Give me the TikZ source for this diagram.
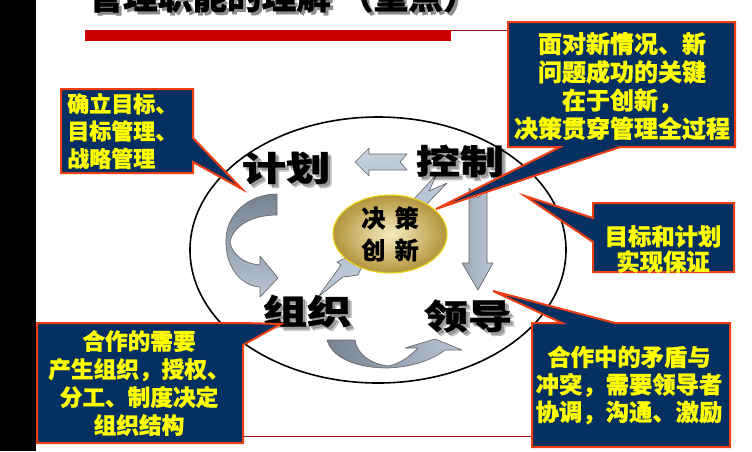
\documentclass[tikz,border=0pt]{standalone}
\usepackage{fontspec}
\newfontfamily\cjk{Noto Sans CJK SC}
\newfontfamily\cjkheavy[BoldFeatures={FakeBold=0.8}]{Noto Sans CJK SC}
\usetikzlibrary{shapes.geometric}

\definecolor{navy}{RGB}{6,48,98}
\definecolor{calloutedge}{RGB}{240,62,20}
\definecolor{callouttext}{RGB}{255,255,0}
\definecolor{arrowdark}{RGB}{118,129,146}
\definecolor{arrowlight}{RGB}{186,198,214}
\definecolor{goldin}{RGB}{246,236,192}
\definecolor{goldout}{RGB}{180,148,60}
\definecolor{goldedge}{RGB}{236,214,20}
\definecolor{titlered}{RGB}{204,0,0}
\definecolor{rule}{RGB}{150,20,20}

\tikzset{
  callout/.style={fill=navy, draw=calloutedge, line width=1.5pt, line join=miter},
  callouttxt/.style={text=callouttext, align=center, inner sep=0pt},
  blockarrow/.style={draw=black!60, line width=0.5pt, line join=round},
  bigword/.style={font=\cjkheavy\bfseries\fontsize{25.5}{28}\selectfont, inner sep=0pt},
  bigshadow/.style={bigword, text=black, opacity=0.22},
  goldword/.style={font=\cjkheavy\bfseries\fontsize{18}{20}\selectfont, inner sep=0pt},
}

\newcommand{\wide}[1]{\scalebox{1.3}[1]{#1}}

\begin{document}
\begin{tikzpicture}[x=0.75pt,y=-0.75pt]
  \useasboundingbox (0,0) rectangle (752,451);
  \clip (0,0) rectangle (752,451);

  % left black band
  \fill[black] (0,0) rectangle (36,451);

  % title (mostly above the top edge) and its red rule
  \node[anchor=base west, font=\cjkheavy\bfseries\fontsize{26}{30}\selectfont, text=black!45, inner sep=0pt]
    (titleshadow) at (91,12) {管理职能的理解 （重点）};
  \node[anchor=base west, font=\cjkheavy\bfseries\fontsize{26}{30}\selectfont, inner sep=0pt]
    (title) at (88,9) {管理职能的理解 （重点）};
  \fill[titlered] (85,30) rectangle (451,41);
  \draw[rule, line width=0.75pt] (451,30.4) -- (510,30.4);
  \draw[rule, line width=0.75pt] (243,436) -- (532,436);

  % outer cycle
  \draw[black, line width=1.2pt] (378,250) ellipse [x radius=188, y radius=133];

  % lightning arrow through the centre (drawn below the gold disc)
  \filldraw[blockarrow, fill=arrowlight]
    (413,200) -- (437,174) -- (429,191) -- (447,183) -- (425,206) -- cycle;
  \filldraw[blockarrow, fill=arrowlight]
    (350,256) -- (337,262) -- (341,265) -- (318,297) -- (343,277) -- (358,275) -- (364,262) -- cycle;

  % control -> plan
  \shadedraw[blockarrow, top color=arrowlight!80, bottom color=arrowlight]
    (355,162) -- (369,148) -- (369,154) -- (407,154) -- (400,162) -- (407,170)
    -- (369,170) -- (369,176) -- cycle;

  % control -> lead
  \shadedraw[blockarrow, left color=arrowlight!85!black, right color=arrowlight]
    (469,188) -- (478,198) -- (487,188) -- (487,263) -- (493,263) -- (478,290)
    -- (462,263) -- (469,263) -- cycle;

  % plan -> organise (curved)
  \shadedraw[blockarrow, top color=arrowdark, bottom color=arrowlight]
    (277,194) .. controls (248,194) and (226,215) .. (226,240)
    .. controls (225,265) and (240,286) .. (260,287)
    -- (260,297) -- (278,278) -- (260,256) -- (260,265)
    .. controls (245,264) and (232,255) .. (230,242)
    .. controls (233,226) and (252,215) .. (277,215) -- cycle;

  % organise -> lead (curved)
  \shadedraw[blockarrow, left color=arrowdark, right color=arrowlight]
    (327,340) .. controls (333,360) and (360,368) .. (388,368)
    .. controls (415,367) and (435,358) .. (445,350)
    -- (462,350) -- (435,339) -- (405,348) -- (418,348)
    .. controls (410,356) and (400,364) .. (388,366)
    .. controls (372,364) and (357,355) .. (355,340) -- cycle;

  % decision / innovation disc
  \shadedraw[inner color=goldin, outer color=goldout, draw=goldedge, line width=0.8pt]
    (390,234) ellipse [x radius=57, y radius=39];
  \node[goldword] (juece) at (390,218) {决\hspace{7pt}策};
  \node[goldword] (chuangxin) at (390,250) {创\hspace{7pt}新};

  % four functions
  \foreach \nm/\px/\py/\txt in {jihua/286/168/计划, kongzhi/460/161/控制, zuzhi/307/311/组织, lingdao/468/316/领导}{
    \node[bigshadow] (\nm s1) at (\px+2.5,\py+2.5) {\wide{\txt}};
    \node[bigshadow] (\nm s2) at (\px+4,\py+4) {\wide{\txt}};
    \node[bigword] (\nm) at (\px,\py) {\wide{\txt}};
  }

  % callouts
  \draw[callout] (61,89) -- (193,89) -- (193,138) -- (242,189) -- (193,162)
    -- (193,173) -- (61,173) -- cycle;
  \node[callouttxt, anchor=west, align=left, font=\cjkheavy\bfseries\fontsize{16.5}{20.5}\selectfont]
    (goal) at (67,131) {确立目标、\\目标管理、\\战略管理};

  \draw[callout] (508,22) -- (735,22) -- (735,147) -- (620,147) -- (436,209)
    -- (560,147) -- (508,147) -- cycle;
  \node[callouttxt, font=\cjkheavy\bfseries\fontsize{18}{21.2}\selectfont]
    (innov) at (622,86) {面对新情况、新\\问题成功的关键\\在于创新，\\决策贯穿管理全过程};

  \draw[callout] (593,203) -- (734,203) -- (734,272) -- (593,272) -- (593,242)
    -- (525,196) -- (593,218) -- cycle;
  \node[callouttxt, font=\cjkheavy\bfseries\fontsize{17.5}{19}\selectfont]
    (assure) at (663,249) {目标和计划\\实现保证};

  \draw[callout] (37,323) -- (243,323) -- (281,324) -- (243,345) -- (243,443)
    -- (37,443) -- cycle;
  \node[callouttxt, font=\cjkheavy\bfseries\fontsize{17}{21}\selectfont]
    (coop) at (139,383) {合作的需要\\产生组织，授权、\\分工、制度决定\\组织结构};

  \draw[callout] (532,323) -- (562,323) -- (493,291) -- (615,323) -- (730,323)
    -- (730,447) -- (532,447) -- cycle;
  \node[callouttxt, font=\cjkheavy\bfseries\fontsize{17.5}{20.6}\selectfont]
    (conflict) at (629,385) {合作中的矛盾与\\冲突，需要领导者\\协调，沟通、激励};
\end{tikzpicture}
\end{document}
